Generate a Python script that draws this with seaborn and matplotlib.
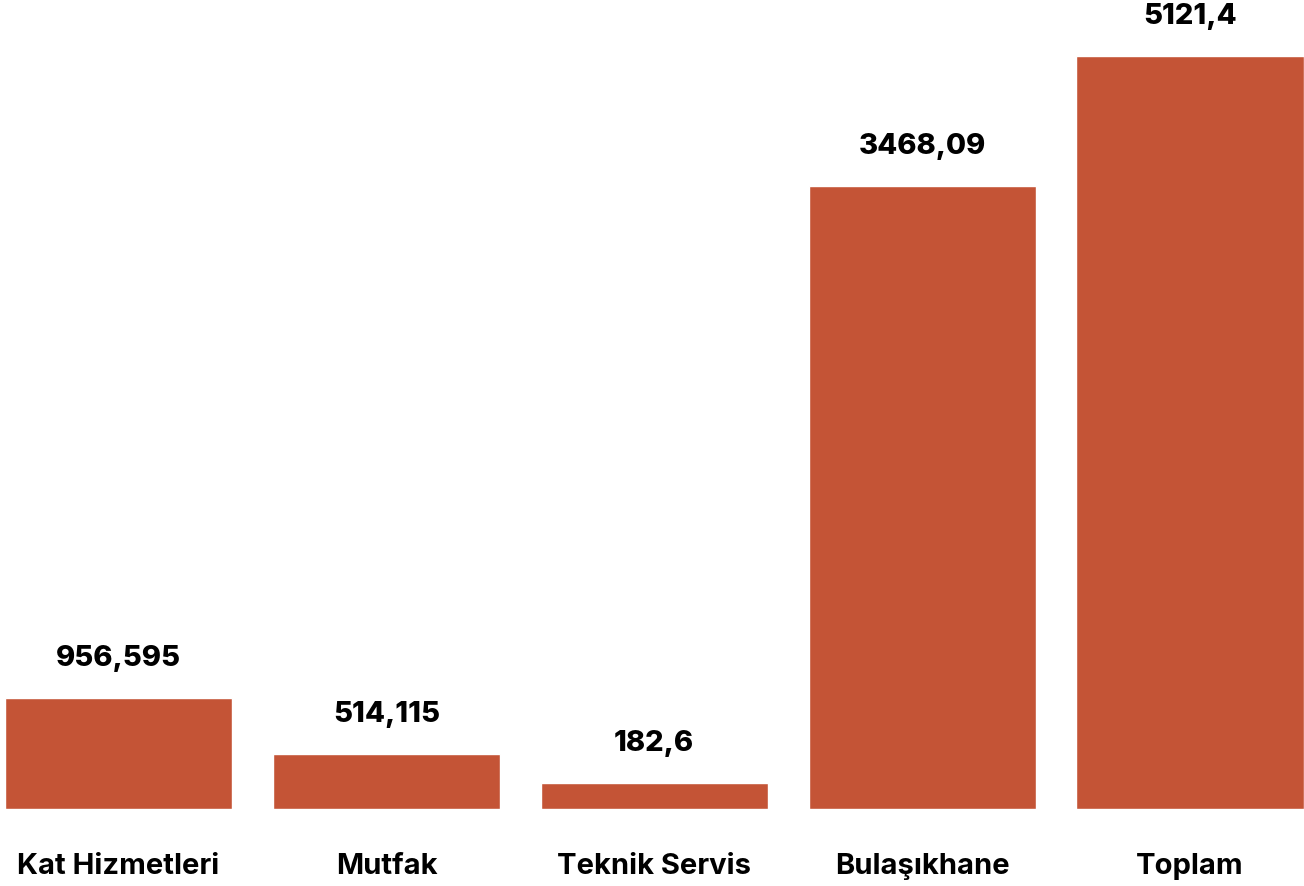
import pandas as pd
import seaborn as sns
import matplotlib.pyplot as plt

## --- Data
categories = [ "Kat Hizmetleri", "Mutfak", "Teknik Servis", "Bulaşıkhane", "Toplam" ]
value_labels = [ "956,595", "514,115", "182,6", "3468,09", "5121,4" ]
# bar heights as drawn in the picture (not proportional to the printed labels)
bar_heights = [ 753, 372, 175, 4237, 5121.4 ]
## ---

BAR_COLOR = "#C45436"

sns.set_theme( style="white" )
plt.rcParams[ "font.family" ] = [ "Inter", "DejaVu Sans" ]

df = pd.DataFrame( { "category": categories, "height": bar_heights } )

fig = plt.figure( figsize=(13.04, 8.86), dpi=100 )
ax = fig.add_axes( [ 0, 0.0872, 1, 0.9128 ] )

sns.barplot( data=df, x="category", y="height", color=BAR_COLOR,
             saturation=1, width=0.848, ax=ax )

ax.bar_label( ax.containers[0], labels=value_labels, padding=19,
              fontsize=21, fontweight="heavy", color="black" )

ax.set_xlim( -0.4426, 4.4258 )
ax.set_ylim( 0, 5502 )
ax.set_xlabel( "" )
ax.set_ylabel( "" )
ax.set_yticks( [] )
ax.tick_params( axis="x", length=0, pad=32, labelsize=21, labelcolor="black" )
for lbl in ax.get_xticklabels():
    lbl.set_fontweight( "bold" )
sns.despine( ax=ax, left=True, bottom=True )

fig.savefig( "out.png", dpi=100 )
